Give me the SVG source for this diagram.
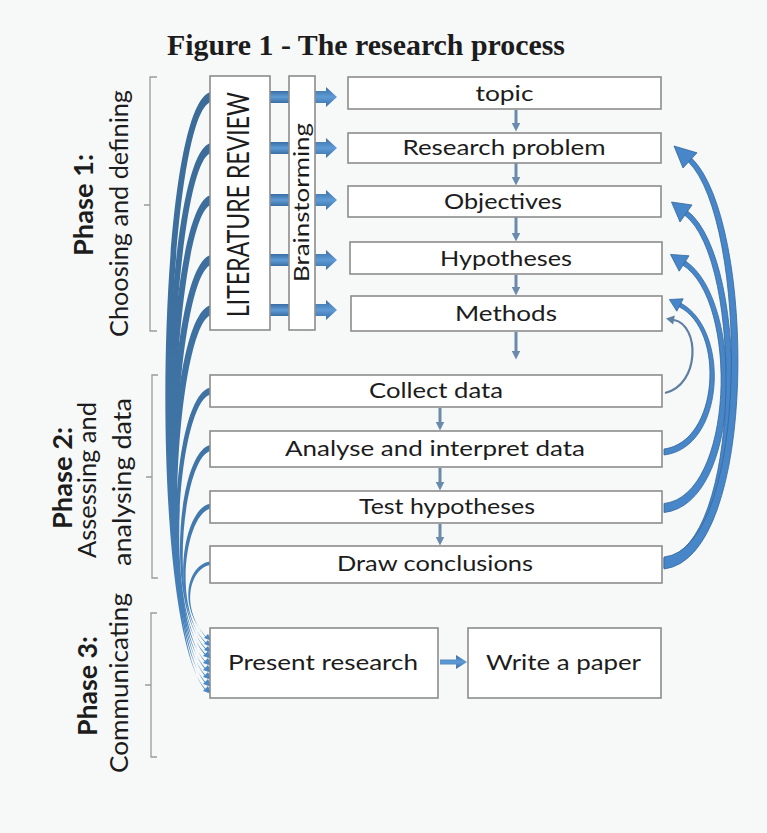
<svg xmlns="http://www.w3.org/2000/svg" width="767" height="833" viewBox="0 0 767 833">
  <defs>
    <style>
      .box { fill: #ffffff; stroke: #8c8c8c; stroke-width: 1.6; }
      .lbl { font-family: Lato, "Open Sans", "Liberation Sans", sans-serif; font-size: 21px; fill: #1c1c1c; text-anchor: middle; }
      .vlbl { font-family: Lato, "Open Sans", "Liberation Sans", sans-serif; fill: #1c1c1c; text-anchor: middle; }
      .phase { font-family: Lato, "Open Sans", "Liberation Sans", sans-serif; font-weight: bold; font-size: 26px; fill: #1c1c1c; text-anchor: middle; }
      .title { font-family: "Liberation Serif", "Times New Roman", serif; font-weight: bold; font-size: 29px; fill: #1c1c1c; text-anchor: middle; }
      .bracket { fill: none; stroke: #9a9a9a; stroke-width: 1.3; }
      .down { fill: none; stroke: #6a8bab; stroke-width: 3; marker-end: url(#smallHead); }
      .feed { fill: url(#gLeft); }
      .loop { fill: #4786c9; stroke: #35679a; stroke-width: 0.8; }
      .block { fill: url(#gBlock); }
    </style>
    <linearGradient id="gBlock" x1="0" y1="0" x2="0" y2="1">
      <stop offset="0" stop-color="#3a6ea3"/>
      <stop offset="0.5" stop-color="#5e9bd6"/>
      <stop offset="1" stop-color="#3a6ea3"/>
    </linearGradient>
    <linearGradient id="gLeft" gradientUnits="userSpaceOnUse" x1="0" y1="80" x2="0" y2="700">
      <stop offset="0" stop-color="#3b6b97"/>
      <stop offset="0.6" stop-color="#3f74a6"/>
      <stop offset="1" stop-color="#4a88c6"/>
    </linearGradient>
    <marker id="smallHead" viewBox="0 0 10 10" refX="5" refY="5" markerWidth="3" markerHeight="3" orient="auto">
      <path d="M0,0 L10,5 L0,10 Z" fill="#6a8bab"/>
    </marker>
  </defs>

  <rect x="0" y="0" width="767" height="833" fill="#f7f8f8"/>

  <text class="title" x="366" y="55" textLength="398" lengthAdjust="spacingAndGlyphs">Figure 1 - The research process</text>

  <!-- phase brackets and labels -->
  <g id="phase1">
    <path class="bracket" d="M157,77 H150 V331 H157 M150,205 H144"/>
    <text class="phase" transform="translate(93,205) rotate(-90)" textLength="102" lengthAdjust="spacingAndGlyphs">Phase 1:</text>
    <text class="vlbl" font-size="25.5" transform="translate(128,213.5) rotate(-90)" textLength="247" lengthAdjust="spacingAndGlyphs">Choosing and defining</text>
  </g>
  <g id="phase2">
    <path class="bracket" d="M158,375 H152 V578 H158 M152,477 H146"/>
    <text class="phase" transform="translate(72,478) rotate(-90)" textLength="102" lengthAdjust="spacingAndGlyphs">Phase 2:</text>
    <text class="vlbl" font-size="25.5" transform="translate(96,480) rotate(-90)" textLength="156" lengthAdjust="spacingAndGlyphs">Assessing and</text>
    <text class="vlbl" font-size="25.5" transform="translate(131,482) rotate(-90)" textLength="168" lengthAdjust="spacingAndGlyphs">analysing data</text>
  </g>
  <g id="phase3">
    <path class="bracket" d="M157,613 H151 V757 H157 M151,685 H145"/>
    <text class="phase" transform="translate(97,686) rotate(-90)" textLength="100" lengthAdjust="spacingAndGlyphs">Phase 3:</text>
    <text class="vlbl" font-size="25.5" transform="translate(128,683) rotate(-90)" textLength="180" lengthAdjust="spacingAndGlyphs">Communicating</text>
  </g>

  <!-- connectors -->
  <g id="connectors">
    <!-- feeds from every step into the presentation -->
    <g id="feeds">
      <path class="feed" d="M211,92 C155,102.5 146.5,640 208,691.2 L208,692.8 C149.5,640 165,113.5 211,102 Z"/>
      <path class="feed" d="M211,143 C160,152.5 148.5,635 208,684.2 L208,685.8 C151.5,635 170,163.5 211,153 Z"/>
      <path class="feed" d="M211,195 C163,204.5 150.5,630 208,677.2 L208,678.8 C153.5,630 173,215.5 211,205 Z"/>
      <path class="feed" d="M211,255 C165,264.5 152.5,625 208,670.2 L208,671.8 C155.5,625 175,275.5 211,265 Z"/>
      <path class="feed" d="M211,305 C167,314.5 154.5,620 208,663.2 L208,664.8 C157.5,620 177,325.5 211,315 Z"/>
      <path class="feed" d="M211,387.5 C171.5,392.5 159,615 208,656.2 L208,657.8 C161,615 178.5,399.5 211,394.5 Z"/>
      <path class="feed" d="M211,445 C177,449 164,612 208,650.2 L208,651.8 C166,612 183,455 211,451 Z"/>
      <path class="feed" d="M211,503.5 C180.5,507.5 169,610 208,644.3 L208,645.7 C171,610 185.5,512.5 211,508.5 Z"/>
      <path class="feed" d="M211,561.3 C186.3,564.3 177.2,608 208,638.4 L208,639.6 C178.8,608 189.8,567.8 211,564.8 Z"/>
      <g fill="#4a88c6">
        <path d="M212,694 L203,691 L208,686 Z"/>
        <path d="M212,687 L203,684 L208,679 Z"/>
        <path d="M212,680 L203,677 L208,672 Z"/>
        <path d="M212,673 L203,670 L208,665 Z"/>
        <path d="M212,666 L203,663 L208,658 Z"/>
        <path d="M212,659 L203,656 L208,651 Z"/>
        <path d="M212,653 L204,650 L208,646 Z"/>
        <path d="M212,647 L204,644 L208,640 Z"/>
        <path d="M212,641 L204,638 L208,634 Z"/>
      </g>
    </g>

    <!-- block arrows from the literature review through brainstorming -->
    <g id="blockArrows">
      <rect class="block" x="270" y="91" width="19" height="12"/>
      <path class="block" d="M315,91 H326 V87 L337,97 L326,107 V103 H315 Z"/>
      <rect class="block" x="270" y="142" width="19" height="12"/>
      <path class="block" d="M315,142 H326 V138 L337,148 L326,158 V154 H315 Z"/>
      <rect class="block" x="270" y="194" width="19" height="12"/>
      <path class="block" d="M315,194 H326 V190 L337,200 L326,210 V206 H315 Z"/>
      <rect class="block" x="270" y="254" width="19" height="12"/>
      <path class="block" d="M315,254 H326 V250 L337,260 L326,270 V266 H315 Z"/>
      <rect class="block" x="270" y="304" width="19" height="12"/>
      <path class="block" d="M315,304 H326 V300 L337,310 L326,320 V316 H315 Z"/>
      <path class="block" d="M440,659.5 H456 V655 L467,662 L456,669 V664.5 H440 Z"/>
    </g>

    <!-- step-to-step arrows -->
    <g id="steps">
      <line class="down" x1="516" y1="110" x2="516" y2="127"/>
      <line class="down" x1="516" y1="163" x2="516" y2="181"/>
      <line class="down" x1="516" y1="217" x2="516" y2="237"/>
      <line class="down" x1="516" y1="275" x2="516" y2="291"/>
      <line class="down" x1="516" y1="332" x2="516" y2="355"/>
      <line class="down" x1="440" y1="408" x2="440" y2="426"/>
      <line class="down" x1="440" y1="468" x2="440" y2="486"/>
      <line class="down" x1="440" y1="524" x2="440" y2="541"/>
    </g>

    <!-- feedback loops on the right -->
    <g id="loops">
      <path d="M665,393 C700,385 700,325 674,320" fill="none" stroke="#5f7fa2" stroke-width="2.2"/>
      <path d="M666,318.5 L674.8,315.6 L673.2,324.4 Z" fill="#5f7fa2"/>

      <path class="loop" d="M664,455 C725,448 730.5,330 680.9,303.2 L679.1,306.8 C725.5,330 719,442 664,449 Z"/>
      <path class="loop" d="M669.4,299.5 L683.2,298.8 L676.8,311.2 Z"/>

      <path class="loop" d="M664,512.5 C742,504 745,300 685.3,260.9 L682.7,265.1 C739,300 734,496 664,503.5 Z"/>
      <path class="loop" d="M670.5,254.4 L689,255.8 L679.2,271.2 Z"/>

      <path class="loop" d="M664,568 C749,557 751.5,260 687.5,211 L684.5,215 C744.5,260 741,549 664,558 Z"/>
      <path class="loop" d="M671.5,202 L692,205 L680,222 Z"/>

      <path class="loop" d="M664,569 C759,558 756,220 691.7,158.2 L688.3,161.8 C748,220 751,548 664,557 Z"/>
      <path class="loop" d="M674,146 L697,152.8 L683,168 Z"/>
    </g>
  </g>

  <!-- source columns -->
  <g id="literature-review">
    <rect class="box" x="210" y="76" width="60" height="254"/>
    <text class="vlbl" font-size="30" transform="translate(249,204.5) rotate(-90)" textLength="225" lengthAdjust="spacingAndGlyphs">LITERATURE REVIEW</text>
  </g>
  <g id="brainstorming">
    <rect class="box" x="289" y="76" width="26" height="254"/>
    <text class="vlbl" font-size="21" transform="translate(309,202.5) rotate(-90)" textLength="159" lengthAdjust="spacingAndGlyphs">Brainstorming</text>
  </g>

  <!-- phase 1 steps -->
  <g id="topic">
    <rect class="box" x="348" y="77" width="313" height="32"/>
    <text class="lbl" x="504.5" y="101" textLength="58" lengthAdjust="spacingAndGlyphs">topic</text>
  </g>
  <g id="research-problem">
    <rect class="box" x="348" y="133" width="313" height="30"/>
    <text class="lbl" x="504" y="155" textLength="203" lengthAdjust="spacingAndGlyphs">Research problem</text>
  </g>
  <g id="objectives">
    <rect class="box" x="348" y="186" width="313" height="31"/>
    <text class="lbl" x="503" y="208.5" textLength="118" lengthAdjust="spacingAndGlyphs">Objectives</text>
  </g>
  <g id="hypotheses">
    <rect class="box" x="350" y="242" width="312" height="32"/>
    <text class="lbl" x="506" y="265.5" textLength="132" lengthAdjust="spacingAndGlyphs">Hypotheses</text>
  </g>
  <g id="methods">
    <rect class="box" x="351" y="296" width="311" height="35"/>
    <text class="lbl" x="506" y="320.5" textLength="102" lengthAdjust="spacingAndGlyphs">Methods</text>
  </g>

  <!-- phase 2 steps -->
  <g id="collect-data">
    <rect class="box" x="210" y="375" width="452" height="32"/>
    <text class="lbl" x="436" y="398" textLength="134" lengthAdjust="spacingAndGlyphs">Collect data</text>
  </g>
  <g id="analyse-data">
    <rect class="box" x="210" y="431" width="452" height="36"/>
    <text class="lbl" x="435" y="456" textLength="300" lengthAdjust="spacingAndGlyphs">Analyse and interpret data</text>
  </g>
  <g id="test-hypotheses">
    <rect class="box" x="210" y="491" width="452" height="32"/>
    <text class="lbl" x="447" y="514" textLength="176" lengthAdjust="spacingAndGlyphs">Test hypotheses</text>
  </g>
  <g id="draw-conclusions">
    <rect class="box" x="210" y="546" width="452" height="37"/>
    <text class="lbl" x="435" y="571" textLength="196" lengthAdjust="spacingAndGlyphs">Draw conclusions</text>
  </g>

  <!-- phase 3 steps -->
  <g id="present-research">
    <rect class="box" x="210" y="628" width="228" height="70"/>
    <text class="lbl" x="323" y="670" textLength="190" lengthAdjust="spacingAndGlyphs">Present research</text>
  </g>
  <g id="write-paper">
    <rect class="box" x="468" y="628" width="193" height="70"/>
    <text class="lbl" x="563.5" y="670" textLength="155" lengthAdjust="spacingAndGlyphs">Write a paper</text>
  </g>
</svg>
